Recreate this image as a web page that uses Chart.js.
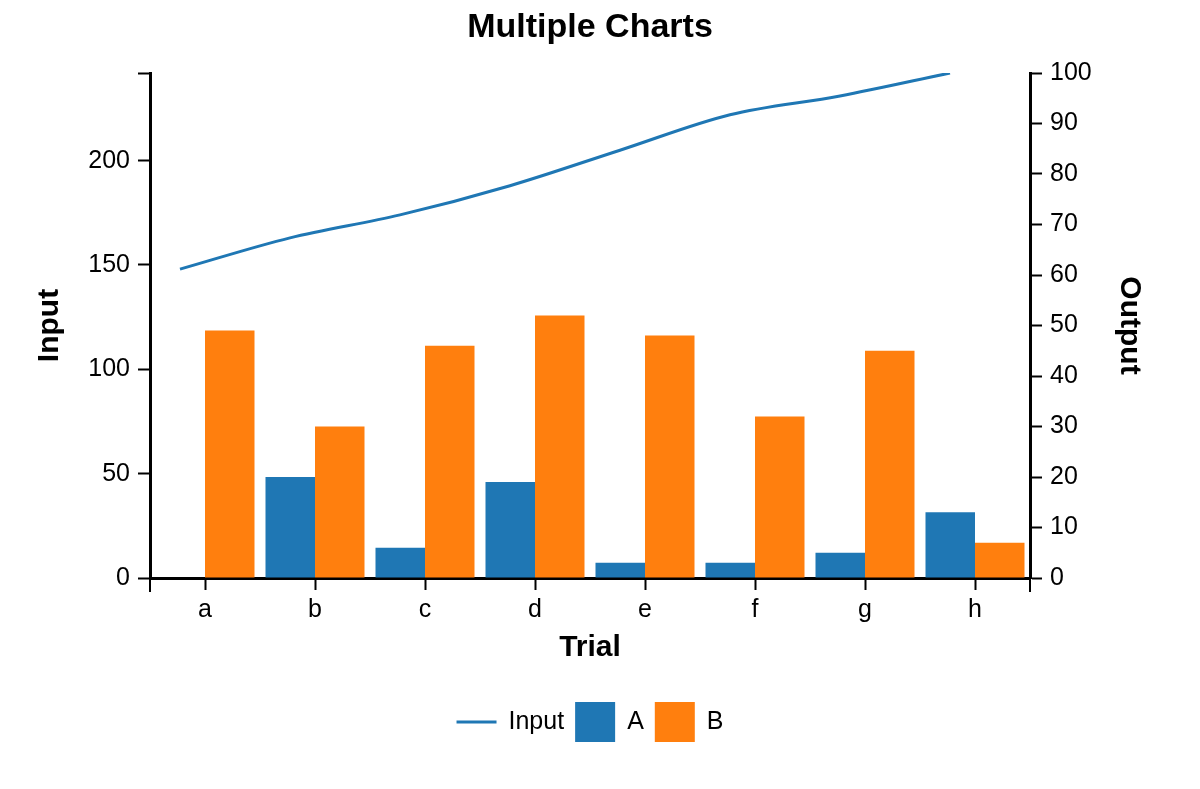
<!DOCTYPE html>
<html lang="en">
<head>
<meta charset="UTF-8">
<title>Multiple Charts</title>
<script src="https://cdn.jsdelivr.net/npm/chart.js"></script>
<style>
  html, body { margin: 0; padding: 0; background: #fff; }
  canvas { display: block; }
</style>
</head>
<body>
<canvas id="chart" width="1200" height="789"></canvas>
<script>
  // data
  const trials = ['a', 'b', 'c', 'd', 'e', 'f', 'g', 'h'];
  const inputValues = [148, 163, 174, 188, 205, 222, 231, 242];
  const valuesA = [0, 20, 6, 19, 3, 3, 5, 13];
  const valuesB = [49, 30, 46, 52, 48, 32, 45, 7];
  const inputTicks = [0, 50, 100, 150, 200];
  const outputTicks = [0, 10, 20, 30, 40, 50, 60, 70, 80, 90, 100];

  const FONT = "'Liberation Sans', Arial, Helvetica, sans-serif";
  const BLUE = '#1f77b4';
  const ORANGE = '#ff7f0e';
  const inputMax = Math.max(...inputValues);

  // legend at the bottom (line sample + big square swatches) and outer ticks of the x axis
  const bottomLegend = {
    id: 'bottomLegend',
    afterDraw(chart) {
      const ctx = chart.ctx;
      const area = chart.chartArea;
      const sym = 40, gap = 12, itemGap = 11;
      ctx.save();

      // outer ticks at both ends of the x axis
      ctx.strokeStyle = '#000';
      ctx.lineWidth = 2;
      ctx.beginPath();
      ctx.moveTo(area.left, area.bottom);
      ctx.lineTo(area.left, area.bottom + 14);
      ctx.moveTo(area.right, area.bottom);
      ctx.lineTo(area.right, area.bottom + 14);
      ctx.stroke();

      ctx.font = '25px ' + FONT;
      const items = chart.data.datasets.map(ds => ({ ds, w: ctx.measureText(ds.label).width }));
      const total = items.reduce((s, it) => s + sym + gap + it.w, 0) + itemGap * (items.length - 1);
      let x = (area.left + area.right) / 2 - total / 2;
      const y = 722;
      items.forEach(it => {
        if (it.ds.type === 'line') {
          ctx.strokeStyle = it.ds.borderColor;
          ctx.lineWidth = it.ds.borderWidth;
          ctx.beginPath();
          ctx.moveTo(x, y);
          ctx.lineTo(x + sym, y);
          ctx.stroke();
        } else {
          ctx.fillStyle = it.ds.backgroundColor;
          ctx.fillRect(x, y - sym / 2, sym, sym);
        }
        x += sym + gap;
        ctx.fillStyle = '#000';
        ctx.textAlign = 'left';
        ctx.textBaseline = 'middle';
        ctx.fillText(it.ds.label, x, y);
        x += it.w + itemGap;
      });
      ctx.restore();
    }
  };

  const axisGrid = {
    drawOnChartArea: false,
    drawTicks: true,
    tickLength: 12,
    tickColor: '#000',
    tickWidth: 2
  };
  const axisBorder = { display: true, color: '#000', width: 3 };

  const ctx = document.getElementById('chart').getContext('2d');
  new Chart(ctx, {
    type: 'bar',
    data: {
      labels: trials,
      datasets: [
        {
          type: 'line',
          label: 'Input',
          data: inputValues.map((v, i) => ({ x: i, y: v })),
          borderColor: BLUE,
          backgroundColor: BLUE,
          borderWidth: 3,
          pointRadius: 0,
          cubicInterpolationMode: 'monotone',
          xAxisID: 'x2',
          yAxisID: 'y'
        },
        {
          label: 'A',
          data: valuesA,
          backgroundColor: BLUE,
          yAxisID: 'y1',
          // chart.js splits each group between the two x axes, so ask for twice the share
          categoryPercentage: 1.8,
          barPercentage: 1.0
        },
        {
          label: 'B',
          data: valuesB,
          backgroundColor: ORANGE,
          yAxisID: 'y1',
          categoryPercentage: 1.8,
          barPercentage: 1.0
        }
      ]
    },
    options: {
      responsive: false,
      animation: false,
      devicePixelRatio: 1,
      layout: { padding: 0 },
      font: { family: FONT },
      plugins: {
        legend: { display: false },
        tooltip: { enabled: false },
        title: {
          display: true,
          fullSize: false,
          text: 'Multiple Charts',
          color: '#000',
          font: { family: FONT, size: 34, weight: 'bold' },
          padding: { top: 7, bottom: 25.2 }
        }
      },
      scales: {
        x: {
          type: 'category',
          position: 'bottom',
          z: 1,
          grid: Object.assign({ offset: false }, axisGrid),
          border: axisBorder,
          ticks: { color: '#000', font: { family: FONT, size: 25 }, padding: 5, maxRotation: 0 },
          title: {
            display: true,
            text: 'Trial',
            color: '#000',
            font: { family: FONT, size: 30, weight: 'bold' },
            padding: { top: 0, bottom: 123 }
          },
          afterFit(scale) { scale.height = 211; }
        },
        x2: {
          type: 'linear',
          display: false,
          offset: false,
          min: -0.2727,
          max: 7.7273
        },
        y: {
          type: 'linear',
          position: 'left',
          min: 0,
          max: inputMax,
          z: 1,
          grid: axisGrid,
          border: axisBorder,
          afterBuildTicks(scale) {
            scale.ticks = inputTicks.concat([inputMax]).map(v => ({ value: v }));
          },
          ticks: {
            color: '#000',
            font: { family: FONT, size: 25 },
            padding: 8,
            callback: v => inputTicks.includes(v) ? String(v) : ''
          },
          title: {
            display: true,
            text: 'Input',
            color: '#000',
            font: { family: FONT, size: 30, weight: 'bold' },
            padding: { top: 32, bottom: 0 }
          },
          afterFit(scale) { scale.width = 150; }
        },
        y1: {
          type: 'linear',
          position: 'right',
          min: 0,
          max: 100,
          z: 1,
          grid: axisGrid,
          border: axisBorder,
          afterBuildTicks(scale) {
            scale.ticks = outputTicks.map(v => ({ value: v }));
          },
          ticks: {
            color: '#000',
            font: { family: FONT, size: 25 },
            padding: 8
          },
          title: {
            display: true,
            text: 'Output',
            color: '#000',
            font: { family: FONT, size: 30, weight: 'bold' },
            padding: { top: 53, bottom: 0 }
          },
          afterFit(scale) { scale.width = 170; }
        }
      }
    },
    plugins: [bottomLegend]
  });
</script>
</body>
</html>
